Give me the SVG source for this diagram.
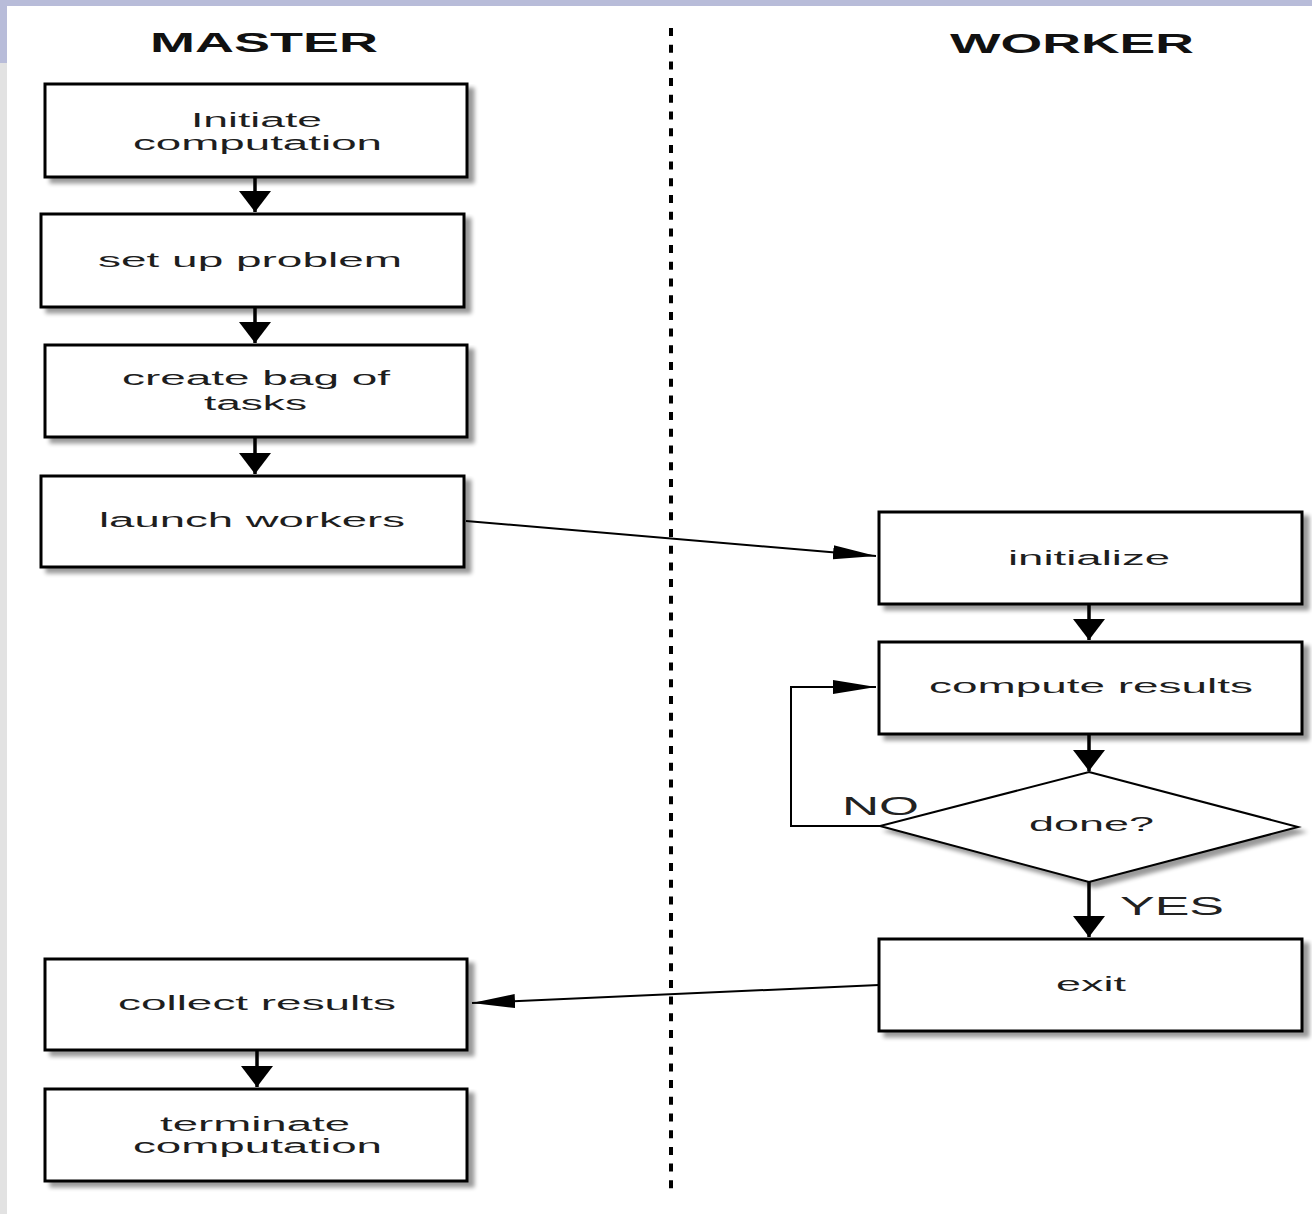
<svg xmlns="http://www.w3.org/2000/svg" width="1312" height="1214" viewBox="0 0 1312 1214">
  <defs>
    <filter id="drop" x="-5%" y="-5%" width="115%" height="125%">
      <feGaussianBlur in="SourceAlpha" stdDeviation="2"/>
      <feOffset dx="6" dy="5" result="off"/>
      <feComponentTransfer><feFuncA type="linear" slope="0.4"/></feComponentTransfer>
      <feMerge><feMergeNode/><feMergeNode in="SourceGraphic"/></feMerge>
    </filter>
    <marker id="head-thick" markerUnits="userSpaceOnUse" markerWidth="22" markerHeight="32" refX="21" refY="16" orient="auto">
      <path d="M0,0 L21,16 L0,32 z" fill="#000"/>
    </marker>
    <marker id="head-thin" markerUnits="userSpaceOnUse" markerWidth="44" markerHeight="16" refX="43" refY="8" orient="auto">
      <path d="M0,1 L43,8 L0,15 z" fill="#000"/>
    </marker>
  </defs>
  <style>
    .box { fill: #fff; stroke: #000; stroke-width: 3; }
    .lbl { font-family: "Liberation Sans", Arial, sans-serif; font-size: 20px; fill: #1e1e1e; }
    .title { font-family: "Liberation Sans", Arial, sans-serif; font-size: 27px; font-weight: bold; fill: #111; }
    .tag { font-family: "Liberation Sans", Arial, sans-serif; font-size: 26px; fill: #222; }
    .step { fill: none; stroke: #000; stroke-width: 3.5; marker-end: url(#head-thick); }
    .flow { fill: none; stroke: #000; stroke-width: 2; marker-end: url(#head-thin); }
  </style>

  <!-- page background and frame strips -->
  <rect x="0" y="0" width="1312" height="1214" fill="#fff"/>
  <rect x="0" y="0" width="1312" height="6" fill="#b8bcd9"/>
  <rect x="0" y="6" width="7" height="57" fill="#b8bcd9"/>
  <rect x="0" y="63" width="7" height="1151" fill="#e2e2e2"/>

  <!-- lane divider -->
  <line x1="671" y1="28" x2="671" y2="1194" stroke="#000" stroke-width="4" stroke-dasharray="8 8.7"/>

  <!-- lane titles -->
  <text class="title" x="150" y="52" textLength="228" lengthAdjust="spacingAndGlyphs">MASTER</text>
  <text class="title" x="950" y="53" textLength="244" lengthAdjust="spacingAndGlyphs">WORKER</text>

  <!-- master lane -->
  <g id="initiate">
    <rect class="box" x="45" y="84" width="422" height="93" filter="url(#drop)"/>
    <text class="lbl" x="191" y="127" textLength="131" lengthAdjust="spacingAndGlyphs">Initiate</text>
    <text class="lbl" x="133" y="150" textLength="249" lengthAdjust="spacingAndGlyphs">computation</text>
  </g>
  <g id="setup">
    <rect class="box" x="41" y="214" width="423" height="93" filter="url(#drop)"/>
    <text class="lbl" x="98" y="267" textLength="304" lengthAdjust="spacingAndGlyphs">set up problem</text>
  </g>
  <g id="bag">
    <rect class="box" x="45" y="345" width="422" height="92" filter="url(#drop)"/>
    <text class="lbl" x="122" y="385" textLength="268" lengthAdjust="spacingAndGlyphs">create bag of</text>
    <text class="lbl" x="204" y="410" textLength="103" lengthAdjust="spacingAndGlyphs">tasks</text>
  </g>
  <g id="launch">
    <rect class="box" x="41" y="476" width="423" height="91" filter="url(#drop)"/>
    <text class="lbl" x="99" y="527" textLength="306" lengthAdjust="spacingAndGlyphs">launch workers</text>
  </g>
  <g id="collect">
    <rect class="box" x="45" y="959" width="422" height="91" filter="url(#drop)"/>
    <text class="lbl" x="118" y="1010" textLength="278" lengthAdjust="spacingAndGlyphs">collect results</text>
  </g>
  <g id="terminate">
    <rect class="box" x="45" y="1089" width="422" height="92" filter="url(#drop)"/>
    <text class="lbl" x="160" y="1131" textLength="190" lengthAdjust="spacingAndGlyphs">terminate</text>
    <text class="lbl" x="133" y="1153" textLength="249" lengthAdjust="spacingAndGlyphs">computation</text>
  </g>

  <!-- worker lane -->
  <g id="initialize">
    <rect class="box" x="879" y="512" width="423" height="92" filter="url(#drop)"/>
    <text class="lbl" x="1008" y="565" textLength="162" lengthAdjust="spacingAndGlyphs">initialize</text>
  </g>
  <g id="compute">
    <rect class="box" x="879" y="642" width="423" height="92" filter="url(#drop)"/>
    <text class="lbl" x="929" y="693" textLength="324" lengthAdjust="spacingAndGlyphs">compute results</text>
  </g>
  <g id="done">
    <polygon points="1089,772 1298,827 1089,882 880,826" fill="#fff" stroke="#000" stroke-width="2" filter="url(#drop)"/>
    <text class="lbl" x="1029" y="831" textLength="125" lengthAdjust="spacingAndGlyphs">done?</text>
  </g>
  <g id="exit">
    <rect class="box" x="879" y="939" width="423" height="92" filter="url(#drop)"/>
    <text class="lbl" x="1056" y="991" textLength="70" lengthAdjust="spacingAndGlyphs">exit</text>
  </g>

  <!-- connectors -->
  <g id="connectors">
    <path class="step" d="M255,177 V212"/>
    <path class="step" d="M255,307 V343"/>
    <path class="step" d="M255,437 V474"/>
    <path class="step" d="M257,1050 V1087"/>
    <path class="step" d="M1089,604 V640"/>
    <path class="step" d="M1089,734 V771"/>
    <path class="step" d="M1089,882 V937"/>
    <path class="flow" d="M466,521 L876,556"/>
    <path class="flow" d="M879,985 L472,1003"/>
    <path class="flow" d="M880,826 H791 V687 H876" stroke-width="2.5"/>
    <text class="tag" x="842" y="815" textLength="77" lengthAdjust="spacingAndGlyphs">NO</text>
    <text class="tag" x="1120" y="915" textLength="104" lengthAdjust="spacingAndGlyphs">YES</text>
  </g>
</svg>
